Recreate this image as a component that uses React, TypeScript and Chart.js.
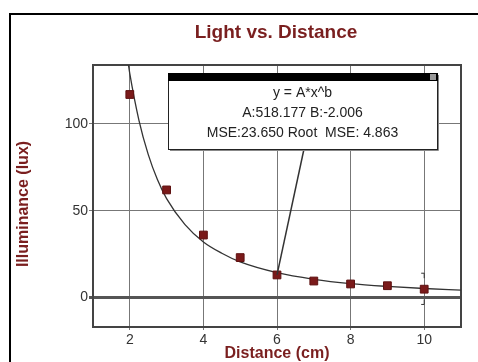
import React, { useEffect, useRef } from "react";
import { Chart, registerables } from "chart.js";

Chart.register(...registerables);

const chartTitle = "Light vs. Distance";
const xTitle = "Distance (cm)";
const yTitle = "Illuminance (lux)";

const distances = [2, 3, 4, 5, 6, 7, 8, 9, 10];
const illuminance = [117, 62, 36, 23, 13, 9.5, 7.8, 6.8, 4.8];

const fitX = [1.95, 2, 2.25, 2.5, 2.75, 3, 3.5, 4, 4.5, 5, 6, 7, 8, 9, 10, 11];
const fitY = [136, 129, 102, 82.5, 68, 57, 42, 32, 25.5, 20.5, 14.3, 10.5, 8, 6.4, 5.2, 4.3];

const xTicks = [2, 4, 6, 8, 10];
const yTicks = [0, 50, 100];

const fitLines = ["y = A*x^b", "A:518.177 B:-2.006", "MSE:23.650 Root  MSE: 4.863"];
const pointerIndex = 4;

const errX = 10;
const errLow = -4;
const errHigh = 14;

const FONT = '"Liberation Sans", Arial, sans-serif';
const RED = "#7a1f1f";

const decorPlugin = {
  id: "decor",
  beforeDraw(chart: any) {
    const ctx = chart.ctx;
    ctx.save();
    ctx.fillStyle = "#fff";
    ctx.fillRect(0, 0, chart.width, chart.height);
    ctx.strokeStyle = "#000";
    ctx.lineWidth = 2;
    ctx.strokeRect(10, 14, 700, 700);
    ctx.fillStyle = RED;
    ctx.font = `bold 19px ${FONT}`;
    ctx.textAlign = "center";
    ctx.textBaseline = "middle";
    ctx.fillText(chartTitle, 276, 33);
    // y axis title
    ctx.font = `bold 16px ${FONT}`;
    ctx.translate(24, 204);
    ctx.rotate(-Math.PI / 2);
    ctx.fillText(yTitle, 0, 0);
    ctx.restore();
  },
  beforeDatasetsDraw(chart: any) {
    const ctx = chart.ctx;
    const a = chart.chartArea;
    const xs = chart.scales.x;
    const ys = chart.scales.y;
    ctx.save();
    ctx.strokeStyle = "#444";
    ctx.lineWidth = 2;
    ctx.strokeRect(a.left, a.top, a.right - a.left, a.bottom - a.top);
    // error bar
    const px = xs.getPixelForValue(errX);
    const y1 = ys.getPixelForValue(errHigh);
    const y2 = ys.getPixelForValue(errLow);
    ctx.strokeStyle = "#333";
    ctx.lineWidth = 1;
    ctx.beginPath();
    ctx.moveTo(px - 3, y1);
    ctx.lineTo(px, y1);
    ctx.lineTo(px, y1 + 5);
    ctx.moveTo(px - 3, y2);
    ctx.lineTo(px, y2);
    ctx.lineTo(px, y2 - 5);
    ctx.stroke();
    ctx.restore();
  },
  afterDraw(chart: any) {
    const ctx = chart.ctx;
    const xs = chart.scales.x;
    const ys = chart.scales.y;
    const bx = 168, by = 73, bw = 269, bh = 76;
    ctx.save();
    // pointer
    ctx.strokeStyle = "#333";
    ctx.lineWidth = 1.5;
    ctx.beginPath();
    ctx.moveTo(304, by + bh);
    ctx.lineTo(xs.getPixelForValue(distances[pointerIndex]), ys.getPixelForValue(illuminance[pointerIndex]));
    ctx.stroke();
    // box
    ctx.fillStyle = "#fff";
    ctx.fillRect(bx, by, bw, bh);
    ctx.strokeStyle = "#222";
    ctx.lineWidth = 1;
    ctx.strokeRect(bx + 0.5, by + 0.5, bw, bh);
    ctx.strokeStyle = "#888";
    ctx.beginPath();
    ctx.moveTo(bx + bw + 1.5, by + 2);
    ctx.lineTo(bx + bw + 1.5, by + bh + 1.5);
    ctx.lineTo(bx + 2, by + bh + 1.5);
    ctx.stroke();
    ctx.fillStyle = "#000";
    ctx.fillRect(bx, by, bw + 1, 8);
    ctx.fillStyle = "#999";
    ctx.fillRect(bx + bw - 7, by + 1, 6, 6);
    ctx.fillStyle = "#222";
    ctx.font = `14px ${FONT}`;
    ctx.textAlign = "center";
    ctx.textBaseline = "middle";
    const cx = bx + bw / 2;
    ctx.fillText(fitLines[0], cx, 93);
    ctx.fillText(fitLines[1], cx, 113);
    ctx.fillText(fitLines[2], cx, 133);
    ctx.restore();
  },
};

export default function App() {
  const ref = useRef<HTMLCanvasElement | null>(null);
  useEffect(() => {
    if (!ref.current) return;
    const chart = new Chart(ref.current, {
      type: "scatter",
      data: {
        datasets: [
          {
            label: "data",
            data: distances.map((x, i) => ({ x, y: illuminance[i] })),
            pointStyle: "rect",
            pointRadius: 5.5,
            backgroundColor: "#7a1a1a",
            borderColor: "#5e1010",
            borderWidth: 1,
            order: 0,
          } as any,
          {
            label: "fit",
            data: fitX.map((x, i) => ({ x, y: fitY[i] })),
            showLine: true,
            pointRadius: 0,
            borderColor: "#333",
            borderWidth: 1.3,
            cubicInterpolationMode: "monotone",
            order: 1,
          } as any,
        ],
      },
      options: {
        animation: false,
        responsive: false,
        devicePixelRatio: 1,
        layout: { padding: { left: 0, top: 65, right: 17, bottom: 0 } },
        plugins: { legend: { display: false }, tooltip: { enabled: false }, title: { display: false } },
        scales: {
          x: {
            type: "linear",
            min: 1,
            max: 11,
            afterBuildTicks: (s: any) => {
              s.ticks = xTicks.map((v) => ({ value: v }));
            },
            afterFit: (s: any) => {
              s.height = 35;
            },
            border: { display: false },
            grid: { color: "#777", lineWidth: 1, tickLength: 3 },
            ticks: { color: "#333", font: { family: FONT, size: 14 }, padding: 2, maxRotation: 0 },
            title: {
              display: true,
              text: xTitle,
              color: RED,
              font: { family: FONT, size: 16, weight: "bold", lineHeight: 1 },
              padding: { top: 0, bottom: 0 },
            },
          },
          y: {
            type: "linear",
            min: -17,
            max: 134,
            afterBuildTicks: (s: any) => {
              s.ticks = yTicks.map((v) => ({ value: v }));
            },
            afterFit: (s: any) => {
              s.width = 93;
            },
            border: { display: false },
            grid: {
              color: (c: any) => (c.tick && c.tick.value === 0 ? "#555" : "#777"),
              lineWidth: (c: any) => (c.tick && c.tick.value === 0 ? 3 : 1),
              tickLength: 4,
            },
            ticks: { color: "#333", font: { family: FONT, size: 14 }, padding: 1 },
            title: { display: false },
          },
        },
      } as any,
      plugins: [decorPlugin],
    });
    return () => chart.destroy();
  }, []);
  return (
    <div style={{ position: "fixed", left: 0, top: 0, width: 478, height: 362, background: "#fff" }}>
      <canvas ref={ref} width={478} height={362} style={{ width: 478, height: 362, display: "block" }} />
    </div>
  );
}
